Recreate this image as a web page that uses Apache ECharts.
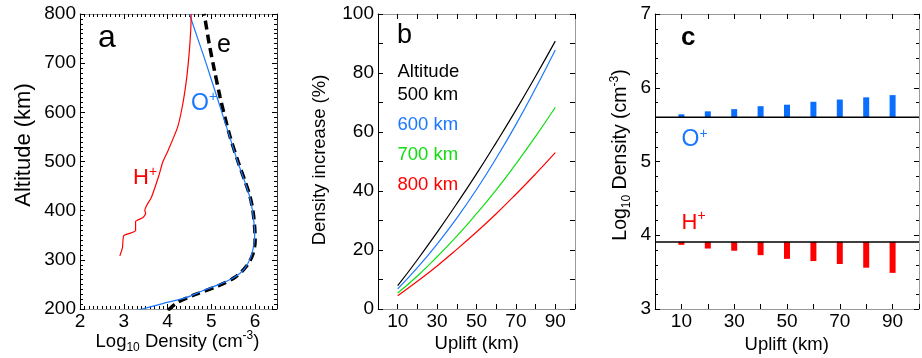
<!DOCTYPE html>
<html><head><meta charset="utf-8">
<script src="https://cdn.jsdelivr.net/npm/echarts@6/dist/echarts.min.js"></script>
<style>html,body{margin:0;padding:0;background:#fff}#c{width:922px;height:358px}</style>
</head><body><div id="c"></div>
<script>
// ---------- Panel a: altitude profiles (altitude km, log10 density) ----------
const oAlt = [197, 211, 223, 237, 250, 264, 281, 305, 330, 350, 370, 400, 430, 460, 500, 550, 600, 650, 700, 750, 800];
const oLog = [3.29, 3.89, 4.42, 4.80, 5.18, 5.52, 5.75, 5.90, 5.97, 5.99, 5.98, 5.94, 5.87, 5.76, 5.60, 5.42, 5.24, 5.06, 4.88, 4.69, 4.50];
const hAlt = [308, 325, 349, 359, 378, 386, 394, 401, 410, 427, 444, 471, 499, 522, 570, 618, 672, 727, 767, 800];
const hLog = [2.91, 2.97, 3.00, 3.27, 3.27, 3.44, 3.50, 3.48, 3.52, 3.63, 3.70, 3.80, 3.89, 4.01, 4.23, 4.35, 4.44, 4.50, 4.53, 4.54];
const eAlt = [197, 213, 229, 247, 265, 288, 312, 339, 366, 400, 430, 460, 500, 550, 590, 631, 686, 740, 788, 800];
const eLog = [4.01, 4.22, 4.62, 5.15, 5.55, 5.81, 5.95, 6.00, 5.99, 5.95, 5.88, 5.77, 5.61, 5.43, 5.31, 5.20, 5.07, 4.95, 4.86, 4.83];

// ---------- Panel b: density increase (%) vs uplift (km) ----------
const uplift = [10, 20, 30, 40, 50, 60, 70, 80, 90];
const inc500 = [7.9, 16.7, 26.0, 35.7, 45.8, 56.4, 67.4, 78.9, 90.8];
const inc600 = [6.8, 14.0, 22.0, 30.8, 40.5, 51.1, 62.5, 74.8, 87.8];
const inc700 = [5.4, 11.2, 17.7, 24.7, 32.3, 40.4, 49.2, 58.5, 68.4];
const inc800 = [4.5, 9.4, 14.6, 20.2, 26.1, 32.3, 38.9, 45.8, 53.0];

// ---------- Panel c: log10 density vs uplift, relative to undisturbed levels ----------
const oBase = 5.60;
const hBase = 3.91;
const oPlusDens = [5.64, 5.68, 5.71, 5.75, 5.77, 5.81, 5.84, 5.87, 5.90];
const hPlusDens = [3.87, 3.82, 3.79, 3.73, 3.68, 3.65, 3.61, 3.56, 3.49];
const baseRange = [0, 100];

const FONT = '"Liberation Sans", Arial, sans-serif';
const BLUE = '#1a78ff', RED = '#ff0000', GREEN = '#11dd11', BARBLUE = '#0a6eff';

function axis(gi, pos, min, max, interval, minorSplit, fmt, lineColor) {
  const isX = (pos === 'bottom' || pos === 'top');
  return {
    type: 'value', gridIndex: gi, position: pos, min: min, max: max, interval: interval,
    axisLine: {show: true, onZero: false, lineStyle: {color: lineColor, width: 1}},
    axisTick: {show: true, inside: true, length: 5, lineStyle: {color: '#000', width: 1}},
    minorTick: {show: !!minorSplit, splitNumber: minorSplit || 5, length: 3, lineStyle: {color: '#000', width: 1}},
    splitLine: {show: false}, minorSplitLine: {show: false},
    axisLabel: fmt ? {show: true, formatter: fmt, color: '#000', fontSize: 19, fontFamily: FONT, margin: isX ? 3 : 4} : {show: false}
  };
}
const intFmt = v => (Math.abs(v - Math.round(v)) < 1e-9 ? String(Math.round(v)) : '');
const oddTens = v => (Math.round(v) % 20 === 10 ? String(Math.round(v)) : '');
const evenTwenty = v => (Math.round(v) % 20 === 0 ? String(Math.round(v)) : '');

const xAxes = [
  axis(0, 'bottom', 2, 6.5, 1, 10, intFmt, '#999'),
  axis(0, 'top', 2, 6.5, 1, 10, null, '#999'),
  axis(1, 'bottom', 0, 100, 10, 0, oddTens, '#999'),
  axis(1, 'top', 0, 100, 10, 0, null, '#999'),
  axis(2, 'bottom', 0, 100, 10, 0, oddTens, '#999'),
  axis(2, 'top', 0, 100, 10, 0, null, '#999')
];
const yAxes = [
  axis(0, 'left', 200, 800, 100, 10, v => String(v), '#000'),
  axis(0, 'right', 200, 800, 100, 10, null, '#333'),
  axis(1, 'left', 0, 100, 10, 0, evenTwenty, '#000'),
  axis(1, 'right', 0, 100, 10, 0, null, '#999'),
  axis(2, 'left', 3, 7, 1, 5, v => String(v), '#000'),
  axis(2, 'right', 3, 7, 1, 5, null, '#999')
];

const pairs = (xs, ys) => xs.map((x, i) => [x, ys[i]]);
const prof = (alts, logs) => alts.map((a, i) => [logs[i], a]);

function floatBars(vals, base, color) {
  return {
    type: 'custom', xAxisIndex: 4, yAxisIndex: 4, z: 2,
    dimensions: ['uplift', 'value', 'base'],
    encode: {x: 0, y: [1, 2]},
    data: uplift.map((u, i) => [u, vals[i], base]),
    renderItem: function (params, api) {
      const p1 = api.coord([api.value(0), api.value(1)]);
      const p2 = api.coord([api.value(0), api.value(2)]);
      const w = 6;
      return {type: 'rect', shape: {x: p1[0] - w / 2, y: Math.min(p1[1], p2[1]), width: w, height: Math.abs(p2[1] - p1[1])},
        style: {fill: color}};
    }
  };
}
const baseLine = v => ({type: 'line', xAxisIndex: 4, yAxisIndex: 4, z: 3, symbol: 'none',
  data: baseRange.map(x => [x, v]), lineStyle: {color: '#000', width: 1.5}});

const series = [
  {type: 'line', xAxisIndex: 0, yAxisIndex: 0, data: prof(eAlt, eLog), symbol: 'none', smooth: 0.3, z: 2,
   lineStyle: {color: '#000', width: 3.5, type: [9, 5]}},
  {type: 'line', xAxisIndex: 0, yAxisIndex: 0, data: prof(oAlt, oLog), symbol: 'none', smooth: 0.3, z: 3,
   lineStyle: {color: BLUE, width: 1.2}},
  {type: 'line', xAxisIndex: 0, yAxisIndex: 0, data: prof(hAlt, hLog), symbol: 'none', smooth: 0.15, z: 3,
   lineStyle: {color: RED, width: 1.2}},
  {type: 'line', xAxisIndex: 2, yAxisIndex: 2, data: pairs(uplift, inc500), symbol: 'none', smooth: true, lineStyle: {color: '#000', width: 1.2}},
  {type: 'line', xAxisIndex: 2, yAxisIndex: 2, data: pairs(uplift, inc600), symbol: 'none', smooth: true, lineStyle: {color: BLUE, width: 1.2}},
  {type: 'line', xAxisIndex: 2, yAxisIndex: 2, data: pairs(uplift, inc700), symbol: 'none', smooth: true, lineStyle: {color: GREEN, width: 1.2}},
  {type: 'line', xAxisIndex: 2, yAxisIndex: 2, data: pairs(uplift, inc800), symbol: 'none', smooth: true, lineStyle: {color: RED, width: 1.2}},
  floatBars(oPlusDens, oBase, BARBLUE),
  floatBars(hPlusDens, hBase, RED),
  baseLine(oBase),
  baseLine(hBase)
];

function T(x, y, text, o) {
  o = o || {};
  return {type: 'text', x: x, y: y, rotation: o.rot || 0, silent: true, z: 50,
    style: {text: text, fill: o.fill || '#000', fontSize: o.size || 18, fontFamily: FONT, fontWeight: o.bold ? 'bold' : 'normal',
      align: o.align || 'left', verticalAlign: 'middle', lineHeight: o.lh, rich: o.rich}};
}
const supRich = s => ({sup: {fontSize: s, lineHeight: s + 1, verticalAlign: 'top', fontFamily: FONT}});
const logRich = {
  sub: {fontSize: 12, lineHeight: 12, verticalAlign: 'bottom', fontFamily: FONT},
  sup: {fontSize: 12, lineHeight: 16, verticalAlign: 'top', fontFamily: FONT}
};

const graphics = [
  T(98, 38, 'a', {size: 32}),
  T(217, 45, 'e', {size: 25}),
  T(191, 103.5, 'O{sup|+}', {size: 23, fill: BLUE, lh: 26, rich: supRich(14)}),
  T(133, 178, 'H{sup|+}', {size: 22, fill: RED, lh: 26, rich: supRich(14)}),
  T(397, 36, 'b', {size: 27}),
  T(397.5, 72, 'Altitude', {size: 18.5}),
  T(397.5, 95, '500 km', {size: 18.5}),
  T(397.5, 125, '600 km', {size: 18.5, fill: BLUE}),
  T(397.5, 155, '700 km', {size: 18.5, fill: GREEN}),
  T(397.5, 185, '800 km', {size: 18.5, fill: RED}),
  T(681, 38, 'c', {size: 26, bold: true}),
  T(681.5, 139.7, 'O{sup|+}', {size: 23, fill: BLUE, lh: 26, rich: supRich(14)}),
  T(681.5, 222.5, 'H{sup|+}', {size: 22, fill: RED, lh: 26, rich: supRich(14)}),
  // axis titles
  T(177.5, 342, 'Log{sub|10} Density (cm{sup|-3})', {size: 18.5, align: 'center', lh: 24, rich: logRich}),
  T(24, 145, 'Altitude (km)', {size: 22, align: 'center', rot: Math.PI / 2}),
  T(476.7, 344, 'Uplift (km)', {size: 18.5, align: 'center'}),
  T(320, 160, 'Density increase (%)', {size: 18.5, align: 'center', rot: Math.PI / 2}),
  T(786.7, 345, 'Uplift (km)', {size: 18.5, align: 'center'}),
  T(621, 155, 'Log{sub|10} Density (cm{sup|-3})', {size: 19.5, align: 'center', lh: 24, rot: Math.PI / 2, rich: logRich})
];

const chart = echarts.init(document.getElementById('c'), null, {renderer: 'canvas'});
chart.setOption({
  animation: false,
  backgroundColor: '#fff',
  grid: [
    {left: 80, top: 14, width: 197, height: 295},
    {left: 378, top: 14, width: 197, height: 295},
    {left: 655, top: 14, width: 266, height: 295}
  ],
  xAxis: xAxes,
  yAxis: yAxes,
  series: series,
  graphic: {elements: graphics}
});
</script></body></html>
